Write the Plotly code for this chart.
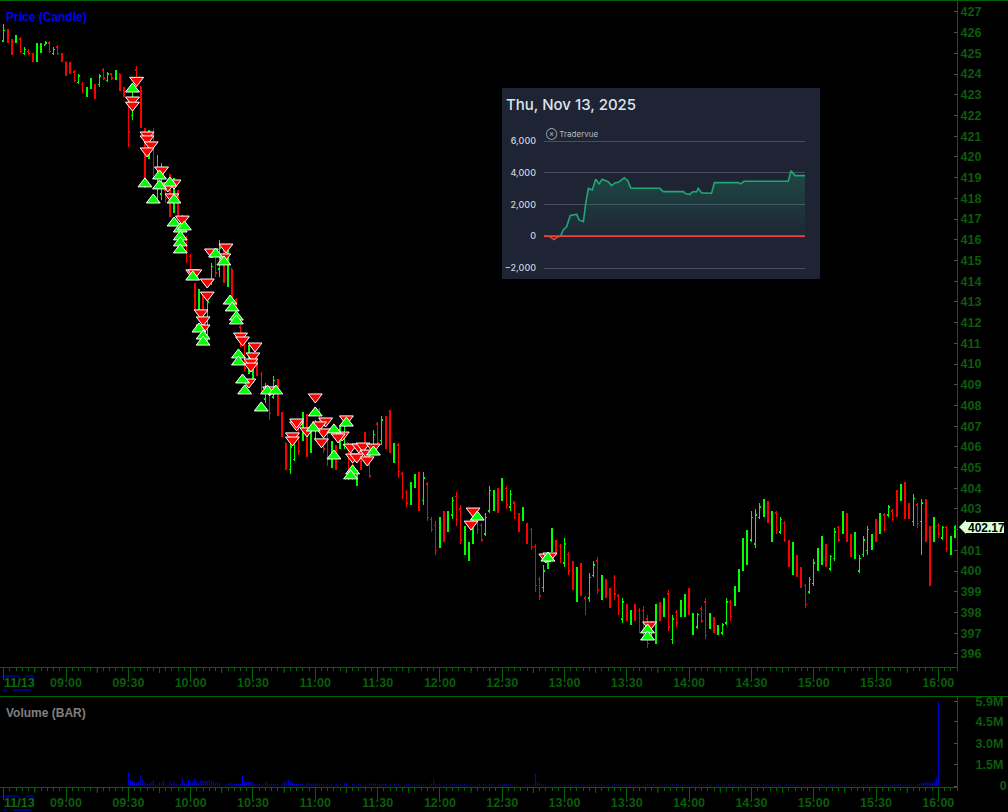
import pandas as pd
import plotly.graph_objects as go

W, H = 1008, 812
DAY = "2025-11-13 "

highs = [
 426.4,426.2,425.7,425.9,425.8,425.3,425.2,425.0,425.5,425.5,
 425.6,425.6,425.3,425.4,425.0,424.6,424.6,424.2,424.0,423.6,
 423.4,423.8,423.5,424.0,424.3,424.1,424.0,424.2,424.0,423.4,
 422.9,423.5,424.4,423.4,421.4,421.3,421.4,420.1,419.7,418.5,
 419.2,419.0,418.4,417.2,416.2,415.3,413.9,413.6,413.4,413.3,
 414.9,415.5,416.0,415.7,415.5,414.6,413.2,411.9,411.2,410.9,
 410.0,410.3,409.6,409.1,408.6,409.4,409.3,407.7,406.2,406.2,
 406.3,407.0,407.7,407.6,406.8,407.3,407.9,406.8,406.8,406.3,
 406.1,407.0,407.1,406.2,405.6,404.9,405.9,406.7,405.2,406.8,
 407.2,407.5,407.5,407.8,406.2,406.2,404.8,403.9,404.3,404.7,
 404.8,404.8,404.3,402.6,402.4,402.6,402.9,402.9,403.6,403.8,
 403.2,402.2,401.4,402.5,402.8,402.3,402.8,404.1,403.9,404.0,
 404.5,404.1,403.9,403.4,402.8,403.1,402.3,402.1,401.3,399.7,
 400.3,400.9,402.1,401.5,401.3,401.6,400.9,400.5,400.2,400.4,
 398.8,399.9,400.5,400.7,399.8,399.6,399.2,399.8,398.9,398.7,
 398.4,398.1,398.4,398.2,398.3,397.9,397.6,398.4,398.5,398.7,
 399.1,397.9,398.1,398.6,398.9,399.2,398.0,398.0,398.3,398.7,
 398.0,397.8,397.4,397.5,398.7,398.6,399.3,400.1,401.6,402.0,
 402.9,403.0,403.3,403.5,403.4,402.9,402.9,402.6,402.4,401.5,
 401.4,400.8,400.2,399.4,399.7,400.6,401.1,401.7,401.3,400.8,
 402.1,402.2,402.9,402.8,401.8,401.9,400.8,401.7,402.2,401.8,
 402.5,402.8,402.8,403.2,403.0,403.9,404.2,404.3,403.3,403.7,
 403.3,403.5,403.5,402.2,402.6,402.3,402.2,402.2,401.7,402.2]
lows = [
 425.6,425.5,424.9,425.5,425.0,424.9,424.9,424.6,424.6,425.0,
 425.4,425.0,424.9,424.9,424.6,423.9,424.0,423.6,423.5,423.1,
 422.9,423.3,422.8,423.4,423.7,423.6,423.7,423.7,423.2,422.9,
 420.5,421.8,423.4,421.4,418.5,419.9,419.0,417.9,417.9,417.8,
 417.1,417.3,417.1,415.5,414.9,414.2,412.6,412.5,412.5,411.1,
 413.8,414.2,414.2,413.9,413.7,413.2,412.5,410.8,409.6,409.5,
 409.1,409.4,408.6,408.1,407.3,408.3,407.5,406.5,404.9,404.7,
 405.3,405.6,406.3,405.5,405.7,406.3,406.8,405.7,405.1,405.0,
 404.9,405.9,405.9,404.4,404.4,404.1,404.9,405.8,404.5,405.6,
 406.0,406.1,405.9,405.7,405.2,404.5,403.5,403.1,403.2,404.0,
 402.9,403.2,402.4,401.9,400.8,401.1,401.4,401.9,402.5,402.2,
 401.3,400.8,400.5,401.3,401.8,401.4,401.7,402.8,402.9,402.8,
 403.4,403.0,402.9,402.5,401.9,402.4,401.3,401.0,399.0,398.6,
 399.0,400.1,400.9,400.8,400.4,400.2,399.8,399.1,398.5,398.8,
 397.9,398.5,399.7,398.9,398.6,398.7,398.2,398.6,397.9,397.5,
 397.6,397.4,397.6,397.0,396.9,396.3,396.7,396.5,397.6,397.8,
 397.1,396.5,397.3,397.8,397.8,397.9,396.9,397.2,397.5,396.7,
 397.2,397.0,396.9,396.9,397.4,397.6,398.3,399.0,400.0,400.3,
 401.4,401.1,402.5,402.6,402.3,401.4,401.8,401.8,401.4,400.2,
 399.8,399.7,399.2,398.2,398.9,399.3,400.0,400.3,400.2,400.0,
 400.5,401.4,401.8,401.4,400.7,400.6,399.9,400.7,400.8,401.0,
 401.4,401.8,401.9,402.6,402.4,402.6,403.4,402.5,402.5,402.2,
 402.1,400.8,401.4,399.3,401.4,401.6,401.5,400.9,400.8,401.6]
opens = [
 425.6,426.1,425.6,425.6,425.7,425.0,425.1,425.0,424.7,425.1,
 425.4,425.5,425.0,425.3,425.0,424.6,424.4,424.1,423.6,423.5,
 423.0,423.4,423.4,423.5,424.2,423.7,424.0,423.8,424.0,423.3,
 422.8,422.0,424.2,423.4,421.3,420.0,421.0,418.5,418.2,418.4,
 419.0,417.6,418.3,415.8,416.0,415.2,413.9,412.8,413.4,411.4,
 414.0,415.4,414.6,415.6,414.2,414.6,413.1,411.8,411.2,409.8,
 409.2,410.2,409.5,408.3,408.6,408.4,409.2,407.6,406.2,404.9,
 405.4,406.9,406.5,407.4,405.9,406.4,407.8,406.7,406.7,405.2,
 406.0,406.0,406.1,406.2,405.5,404.2,405.8,406.6,405.1,405.7,
 407.1,406.3,407.4,407.5,405.3,406.1,404.7,403.8,403.4,404.1,
 404.6,403.4,404.2,402.5,402.2,401.3,402.7,402.0,402.7,403.6,
 403.0,401.0,400.7,401.4,402.7,402.2,401.8,402.9,403.0,403.9,
 403.5,404.0,403.1,403.3,402.7,402.5,402.2,402.0,401.2,399.6,
 399.2,400.2,401.0,401.4,401.2,400.4,400.8,400.4,398.8,400.2,
 398.7,398.7,399.8,400.5,398.8,399.5,399.1,399.7,398.8,397.7,
 398.3,397.5,398.3,398.1,398.1,397.7,396.8,396.7,398.4,397.9,
 398.9,396.7,398.0,397.9,397.9,399.1,397.1,397.3,398.2,398.5,
 397.3,397.7,397.0,397.0,397.5,398.5,398.4,399.1,400.1,400.5,
 401.5,401.3,402.6,402.7,403.3,401.6,402.8,401.9,402.3,401.4,
 400.0,400.7,400.1,399.3,399.0,399.4,400.1,400.5,401.2,400.1,
 400.6,402.1,401.9,402.7,401.7,400.8,400.0,400.8,401.0,401.1,
 402.4,401.9,402.7,402.7,402.9,403.8,403.5,404.2,403.2,402.4,
 403.2,402.4,403.4,401.6,401.5,402.2,401.6,402.1,400.9,401.7]
closes = [
 426.1,425.7,425.0,425.7,425.1,425.2,425.0,424.7,425.2,425.4,
 425.5,425.1,425.2,425.0,424.7,424.0,424.1,423.7,423.9,423.2,
 423.2,423.7,422.9,423.9,423.8,424.0,423.8,424.1,423.3,423.0,
 421.2,423.2,423.5,421.5,419.8,421.0,419.5,419.5,419.0,418.0,
 417.5,418.6,417.4,416.8,415.0,414.4,412.8,413.4,412.6,413.0,
 414.7,414.4,415.6,414.2,415.0,413.4,412.6,411.0,409.8,410.6,
 409.9,409.5,408.7,408.9,407.6,409.2,407.7,406.6,405.2,406.0,
 406.2,405.8,407.5,405.7,406.6,407.1,407.0,405.9,405.4,406.0,
 405.1,406.8,407.0,404.6,404.6,404.8,405.0,405.9,404.6,406.6,
 406.2,407.3,406.1,406.2,406.1,404.8,403.7,403.3,404.1,404.6,
 403.3,404.5,402.6,402.0,401.0,402.4,401.7,402.7,403.4,402.5,
 401.5,401.9,401.3,402.3,402.0,401.5,402.6,403.9,403.7,403.0,
 404.3,403.2,403.7,402.6,402.0,403.0,401.5,401.2,399.3,398.8,
 400.0,400.8,401.9,400.9,400.6,401.3,400.0,399.3,400.0,399.0,
 398.1,399.7,400.3,399.1,399.6,398.8,398.4,398.9,398.1,398.5,
 397.7,398.0,397.8,397.2,397.1,396.5,397.4,398.2,397.8,398.5,
 397.3,397.7,397.5,398.4,398.7,398.1,397.8,397.9,397.6,396.9,
 397.9,397.2,397.3,397.4,398.5,397.8,399.1,399.9,401.3,401.8,
 402.6,402.7,403.1,403.3,402.4,402.7,402.0,402.5,401.5,400.4,
 401.2,399.9,399.4,398.4,399.6,400.4,400.9,401.5,400.4,400.7,
 401.9,401.5,402.7,401.6,400.9,401.7,400.6,401.5,402.0,401.7,
 401.6,402.6,402.0,403.1,402.5,402.8,404.0,402.7,402.6,403.5,
 402.3,403.3,401.6,399.5,402.4,401.8,402.1,401.1,401.6,402.17]

down_times = ["09:34","09:32","09:32","09:39","09:39","09:41","09:39","09:46","09:49","09:52","09:51","09:56",
 "10:01","10:02","10:10","10:17","10:16","10:08","10:08","10:05","10:06","10:06","10:24","10:25","10:31","10:30",
 "10:29","10:29","10:28","10:38","11:00","10:51","10:51","10:49","10:49","10:56","11:05","11:02","11:04","11:03",
 "11:15","11:13","11:11","11:17","11:18","11:20","11:21","11:23","11:25","11:28","11:25","12:16","12:15","12:51",
 "12:53","13:41"]
down_prices = [423.7,422.75,422.5,421.06,420.87,420.58,420.29,419.37,418.6,418.74,418.07,417.0,
 414.4,414.4,415.41,415.65,415.17,413.96,413.33,412.47,412.13,411.74,411.35,411.16,410.87,410.39,
 410.1,409.9,409.13,408.75,408.41,407.06,407.2,406.53,406.33,406.77,407.25,407.06,406.72,406.24,
 407.35,406.57,406.48,405.99,405.51,405.51,405.99,406.04,405.7,405.99,405.37,402.9,402.27,400.68,
 400.73,397.4]
up_times = ["09:32","09:38","09:42","09:45","09:45","09:50","09:52","09:52","09:55","09:57","09:55","09:55","09:55",
 "10:12","10:16","10:19","10:20","10:22","10:22","10:04","10:06","10:06","10:23","10:23","10:25","10:26","10:37",
 "10:41","10:34","11:00","10:59","11:09","11:09","11:15","11:18","11:17","11:28","12:18","12:52","13:40","13:40","10:01"]
up_prices = [423.28,418.7,417.92,419.08,418.6,418.74,417.92,416.81,416.52,416.62,416.14,415.85,415.51,
 415.31,414.93,413.04,412.71,412.27,412.08,411.69,411.35,411.06,410.44,410.1,409.23,408.7,408.7,
 408.7,407.88,407.64,406.91,406.82,405.56,407.15,404.84,404.6,405.75,402.61,400.63,397.16,396.82,414.2]

rth_volume_k = [
 950,400,300,250,250,300,750,480,250,130,170,220,420,120,100,250,170,350,70,90,320,130,300,170,70,100,550,170,120,420,
 280,320,550,280,270,420,350,350,350,420,300,300,200,280,200,70,90,130,170,250,100,170,120,170,140,700,320,320,320,320,
 270,120,170,170,50,120,330,270,120,170,170,130,130,30,100,320,240,470,260,240,120,200,130,170,100,70,190,170,140,170,
 160,170,170,160,120,70,130,60,170,60,170,70,60,40,170,250,40,50,170,70,40,170,130,60,50,20,160,170,170,150,
 130,140,150,170,150,40,140,70,170,50,170,30,30,60,120,120,60,50,130,100,90,80,120,90,20,70,200,410,170,60,
 170,60,60,140,50,50,120,100,90,50,120,90,130,110,50,130,50,60,40,150,60,130,110,60,150,130,100,60,90,90,
 100,100,100,100,90,40,50,60,30,20,30,70,120,60,30,90,880,300,170,130,110,110,40,30,40,130,20,50,40,60,
 60,90,70,110,40,80,120,60,90,130,50,70,100,60,80,110,40,90,130,70,60,100,50,80,120,70,90,40,60,110,
 80,60,130,90,50,70,110,60,40,100,140,80,60,120,70,50,90,60,80,110,40,70,100,60,130,80,50,90,70,60,
 100,70,40,90,60,120,80,50,70,110,60,90,40,80,130,60,70,100,50,90,60,110,80,40,70,120,60,90,50,80,
 110,150,90,70,130,60,100,80,120,50,90,70,60,110,80,40,70,100,60,90,130,50,80,70,60,100,40,90,70,110,
 60,90,50,80,100,70,40,60,110,80,50,90,70,60,40,80,100,60,50,70,90,110,60,40,80,70,100,50,60,90,
 70,60,90,50,80,100,60,70,90,110,80,130,100,60,90,120,80,110,70,60,130,170,220,250,260,240,250,230,300,580,
 5900]

equity_pct = [0,2.3,3.8,5.1,6.4,7.4,8.7,10,12.5,13.4,15.1,16,17,18.5,19.8,21.1,22.3,24.6,25.9,27.2,28.7,30.8,
 32.1,33.3,44.4,45.7,53.4,54.3,55.9,56.8,58.5,59.1,60.4,64.2,65.3,74.5,75.4,76.6,93.6,94.6,96.2,100]
equity_pnl = [0,-20,-210,-60,20,400,610,1300,1390,1030,920,2080,3020,2920,3590,3300,3590,3440,3190,3360,3420,3690,
 3500,3020,3020,2810,2810,2670,2640,2790,2810,3020,2730,2710,3380,3380,3300,3460,3460,4130,3820,3820]

equity_ticks = [-2000,0,2000,4000,6000]
price_ticks = list(range(396, 428))
price_labels = ["" if p == 402 else str(p) for p in price_ticks]
volume_ticks = [0, 1.5, 3.0, 4.5, 5.9]
volume_labels = ["\u00a0"*7+"0", "1.5M", "3.0M", "4.5M", "5.9M"]

GREEN = "#006400"
LABEL = "#0b5c0b"
TICK = "#555555"
FONT = "Liberation Sans"

def px(x): return x / W
def py(y): return 1 - y / H

times = pd.date_range(DAY + "08:30", periods=len(closes), freq="2min")
rth_times = pd.date_range(DAY + "09:30", periods=len(rth_volume_k), freq="1min")
major = pd.date_range(DAY + "08:30", DAY + "16:00", freq="30min")
medium = pd.date_range(DAY + "08:45", DAY + "15:45", freq="30min")
major_text = ["" if i == 0 else t.strftime("%H:%M") for i, t in enumerate(major)]
x_range = [DAY + "08:28:12", DAY + "16:09:00"]

fig = go.Figure()
fig.add_trace(go.Ohlc(x=times, open=opens, high=highs, low=lows, close=closes,
    increasing=dict(line=dict(color="#00ff00", width=1.5)),
    decreasing=dict(line=dict(color="#ff0000", width=1.5)),
    tickwidth=0.3, xaxis="x", yaxis="y", hoverinfo="skip"))
fig.add_trace(go.Scatter(x=[DAY + t for t in down_times], y=down_prices, mode="markers",
    marker=dict(symbol="triangle-down", size=12, color="#ff0000", line=dict(color="#ffffff", width=1)),
    xaxis="x", yaxis="y", hoverinfo="skip"))
fig.add_trace(go.Scatter(x=[DAY + t for t in up_times], y=up_prices, mode="markers",
    marker=dict(symbol="triangle-up", size=12, color="#00ff00", line=dict(color="#ffffff", width=1)),
    xaxis="x", yaxis="y", hoverinfo="skip"))
fig.add_trace(go.Bar(x=list(rth_times), y=[v / 1000 for v in rth_volume_k], width=29000,
    marker=dict(color="rgba(0,0,255,0.99)", line=dict(width=0)), xaxis="x2", yaxis="y2", hoverinfo="skip"))

pos_pnl = [max(v, 0) for v in equity_pnl]
neg_pnl = [min(v, 0) for v in equity_pnl]
fig.add_trace(go.Scatter(x=equity_pct, y=pos_pnl, mode="lines", fill="tozeroy",
    line=dict(color="#1fa870", width=1.6),
    fillgradient=dict(type="vertical", colorscale=[[0, "rgba(31,168,112,0.02)"], [1, "rgba(31,168,112,0.28)"]]),
    xaxis="x3", yaxis="y3", hoverinfo="skip"))
fig.add_trace(go.Scatter(x=equity_pct, y=neg_pnl, mode="lines",
    line=dict(color="#e8453c", width=1.4), xaxis="x3", yaxis="y3", hoverinfo="skip"))

axis_font = dict(family=FONT, size=12.5, color=LABEL, weight="bold")
def time_axis(anchor):
    return dict(domain=[0, px(957)], range=x_range, type="date", anchor=anchor, automargin=False,
        showgrid=False, zeroline=False, showline=True, linecolor=GREEN, linewidth=1,
        tickmode="array", tickvals=list(major), ticktext=major_text, ticks="outside", ticklen=12,
        tickcolor=GREEN, tickwidth=1, tickfont=axis_font, ticklabelstandoff=-8,
        minor=dict(dtick=180000, tick0=DAY + "08:30", ticks="outside", ticklen=3, tickcolor=GREEN, tickwidth=1),
        rangeslider=dict(visible=False))

shapes = [
    dict(type="rect", xref="paper", yref="paper", x0=px(502), x1=px(820), y0=py(279), y1=py(88),
         fillcolor="#1e2434", line=dict(width=0), layer="below"),
    dict(type="line", xref="paper", yref="paper", x0=0, x1=1, y0=py(0.5), y1=py(0.5), line=dict(color=GREEN, width=1)),
    dict(type="line", xref="paper", yref="paper", x0=0, x1=1, y0=py(696.5), y1=py(696.5), line=dict(color=GREEN, width=1)),
    dict(type="line", xref="x3", yref="y3", x0=0, x1=100, y0=0, y1=0, line=dict(color="#e8453c", width=1.3)),
    dict(type="path", xref="paper", yref="paper", line=dict(width=0), fillcolor="#d8ffd8",
         path=f"M{px(959)},{py(527)} L{px(966)},{py(520)} L{px(966)},{py(522)} L{px(1004)},{py(522)} "
              f"L{px(1004)},{py(533)} L{px(966)},{py(533)} L{px(966)},{py(534)} Z"),
]
for t in medium:
    for base in (667, 787):
        shapes.append(dict(type="line", xref="x", yref="paper", x0=t, x1=t, y0=py(base), y1=py(base + 6),
                           line=dict(color=GREEN, width=1)))
for off in (0, 120):
    for seg in ((2, 676, 19, 676), (26, 676, 33, 676), (33, 676, 33, 686), (3, 690, 7, 690), (13, 690, 31, 690)):
        shapes.append(dict(type="line", xref="paper", yref="paper", x0=px(seg[0]), x1=px(seg[2]),
                           y0=py(seg[1] + off), y1=py(seg[3] + off), line=dict(color="#0000ff", width=1)))

def note(text, x, y, size=12, color="#000000", family=FONT, weight="bold", anchor="left"):
    return dict(text=text, xref="paper", yref="paper", x=px(x), y=py(y), showarrow=False, xanchor=anchor,
                yanchor="middle", font=dict(family=family, size=size, color=color, weight=weight))

annotations = [
    note("Price (Candle)", 4, 17, color="#0000ff"),
    note("Volume (BAR)", 4, 713, color="#808080"),
    note("11/13", 2, 683, size=12.5, color="#0f6b0f"),
    note("11/13", 2, 803, size=12.5, color="#0f6b0f"),
    note("402.17", 966, 527.5),
    note("Thu, Nov 13, 2025", 504, 104, size=15, color="#dfe3ea", family="Inter", weight=500),
    note("\u2297 Tradervue", 544, 134, size=8, color="#b4b9c3", family="Inter", weight=400),
]

post = ("document.body.style.margin='0';document.body.style.background='#000';document.body.style.overflow='hidden';"
        "document.querySelectorAll('.ohlc path').forEach(function(p){p.style.shapeRendering='crispEdges';});")

fig.update_layout(
    template="none",
    width=W, height=H, margin=dict(l=0, r=0, t=0, b=0, pad=0), autosize=False,
    paper_bgcolor="#000000", plot_bgcolor="rgba(0,0,0,0)", showlegend=False, barmode="overlay",
    xaxis=time_axis("y"),
    xaxis2=time_axis("y2"),
    xaxis3=dict(domain=[px(544), px(805)], range=[0, 100], anchor="y3", visible=False, automargin=False),
    yaxis=dict(domain=[py(667), py(1)], range=[395.37, 427.53], side="right", anchor="x", automargin=False,
        tickmode="array", tickvals=price_ticks, ticktext=price_labels, ticks="inside", ticklen=3, tickcolor=TICK,
        tickwidth=1, showgrid=False, zeroline=False, showline=True, linecolor=GREEN, linewidth=1, tickfont=axis_font),
    yaxis2=dict(domain=[py(787), py(697)], range=[-0.07, 6.24], side="right", anchor="x2", automargin=False,
        tickmode="array", tickvals=volume_ticks, ticktext=volume_labels, ticks="inside", ticklen=3,
        tickcolor=TICK, tickwidth=1, showgrid=False, zeroline=False, showline=True, linecolor=GREEN,
        linewidth=1, tickfont=axis_font, ticklabelstandoff=15),
    yaxis3=dict(domain=[py(271), py(138)], range=[-2189, 6189], anchor="x3", side="left", automargin=False,
        tickmode="array", tickvals=equity_ticks, tickformat=",d", showgrid=True, gridcolor="#474d5c", gridwidth=1,
        zeroline=False, showline=False, ticks="", ticklabelstandoff=7,
        tickfont=dict(family="Inter", size=9, color="#cdd1d9", weight=500)),
    shapes=shapes, annotations=annotations,
)

fig.write_html("out.html", config={"displayModeBar": False}, post_script=post)
